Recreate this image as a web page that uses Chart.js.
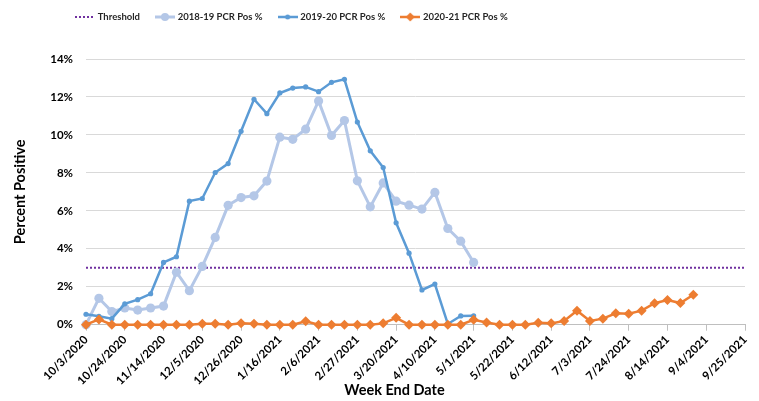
<!DOCTYPE html>
<html>
<head>
<meta charset="utf-8">
<script src="https://cdn.jsdelivr.net/npm/chart.js@4.4.1/dist/chart.umd.min.js"></script>
<style>
html,body{margin:0;padding:0;background:#fff;}
#wrap{width:759px;height:401px;position:relative;}
</style>
</head>
<body>
<div id="wrap"><canvas id="c" width="759" height="401"></canvas></div>
<script>
// ---------------- DATA ----------------
const weekEndDates = [
  '10/3/2020','10/10/2020','10/17/2020','10/24/2020','10/31/2020','11/7/2020','11/14/2020','11/21/2020','11/28/2020',
  '12/5/2020','12/12/2020','12/19/2020','12/26/2020','1/2/2021','1/9/2021','1/16/2021','1/23/2021','1/30/2021',
  '2/6/2021','2/13/2021','2/20/2021','2/27/2021','3/6/2021','3/13/2021','3/20/2021','3/27/2021','4/3/2021',
  '4/10/2021','4/17/2021','4/24/2021','5/1/2021','5/8/2021','5/15/2021','5/22/2021','5/29/2021','6/5/2021',
  '6/12/2021','6/19/2021','6/26/2021','7/3/2021','7/10/2021','7/17/2021','7/24/2021','7/31/2021','8/7/2021',
  '8/14/2021','8/21/2021','8/28/2021','9/4/2021','9/11/2021','9/18/2021','9/25/2021'
];
const xTickLabels = [
  '10/3/2020','10/24/2020','11/14/2020','12/5/2020','12/26/2020','1/16/2021','2/6/2021','2/27/2021','3/20/2021',
  '4/10/2021','5/1/2021','5/22/2021','6/12/2021','7/3/2021','7/24/2021','8/14/2021','9/4/2021','9/25/2021'
];
const yTickValues = [0, 2, 4, 6, 8, 10, 12, 14];

const threshold = [3,3,3,3,3,3,3,3,3,3,3,3,3,3,3,3,3,3,3,3,3,3,3,3,3,3,3,3,3,3,3,3,3,3,3,3,3,3,3,3,3,3,3,3,3,3,3,3,3,3,3,3];
const pcr1819 = [0.0, 1.39, 0.69, 0.88, 0.77, 0.88, 0.98, 2.77, 1.79, 3.07, 4.6, 6.29, 6.7, 6.79, 7.57, 9.88, 9.77, 10.3,
  11.79, 9.97, 10.76, 7.58, 6.21, 7.47, 6.51, 6.3, 6.09, 6.97, 5.07, 4.4, 3.28];
const pcr1920 = [0.55, 0.44, 0.32, 1.1, 1.32, 1.63, 3.28, 3.58, 6.51, 6.65, 8.02, 8.49, 10.19, 11.88, 11.12, 12.21, 12.47, 12.53,
  12.28, 12.77, 12.93, 10.68, 9.16, 8.28, 5.37, 3.77, 1.83, 2.14, 0.04, 0.46, 0.47];
const pcr2021 = [0, 0.28, 0, 0, 0, 0, 0, 0, 0, 0.05, 0.05, 0, 0.08, 0.05, 0, 0, 0, 0.18, 0, 0, 0, 0, 0, 0.07, 0.36, 0,
  0, 0, 0, 0, 0.26, 0.12, 0, 0, 0, 0.1, 0.07, 0.2, 0.74, 0.2, 0.32, 0.6, 0.58, 0.74, 1.13, 1.3, 1.14, 1.58];

const seriesNames = ['Threshold', '2018-19 PCR Pos %', '2019-20 PCR Pos %', '2020-21 PCR Pos %'];
const seriesColors = ['#7030a0', '#b4c7e7', '#5b9bd5', '#ed7d31'];

// ---------------- HELPERS ----------------
const legendFont = {family: 'Lato', size: 9.5, weight: 'bold'};

function sample(color, lw, dash, marker, r) {
  const c = document.createElement('canvas');
  c.width = 20; c.height = 12;
  const g = c.getContext('2d');
  g.strokeStyle = color; g.lineWidth = lw; g.setLineDash(dash);
  g.beginPath(); g.moveTo(0, 6); g.lineTo(20, 6); g.stroke();
  g.setLineDash([]); g.fillStyle = color;
  if (marker === 'circle') { g.beginPath(); g.arc(10, 6, r, 0, Math.PI * 2); g.fill(); }
  if (marker === 'diamond') {
    g.beginPath(); g.moveTo(10, 6 - r); g.lineTo(10 + r, 6); g.lineTo(10, 6 + r); g.lineTo(10 - r, 6); g.closePath(); g.fill();
  }
  return c;
}
const samples = [
  sample(seriesColors[0], 2, [2, 2], null, 0),
  sample(seriesColors[1], 3, [], 'circle', 4),
  sample(seriesColors[2], 2.5, [], 'circle', 2.5),
  sample(seriesColors[3], 2.5, [], 'diamond', 4.5)
];

const LEGEND_PAD = 17, LEGEND_LEFT = 77 - LEGEND_PAD, LEGEND_TEXT_Y = 17, X_TITLE_SHIFT = 21;

const placeBoxes = {
  id: 'placeBoxes',
  afterLayout(chart) {
    const lg = chart.legend;
    const fs = legendFont.size;
    const wantTop = LEGEND_TEXT_Y - LEGEND_PAD - fs / 2;
    const dx = LEGEND_LEFT - lg.left, dy = wantTop - lg.top;
    lg.left += dx; lg.right += dx; lg.top += dy; lg.bottom += dy;
    const xs = chart.scales.x;
    if (!xs._titleShifted) {
      const orig = xs.drawTitle;
      xs.drawTitle = function () {
        const l = this.left;
        this.left = l - 2 * X_TITLE_SHIFT;
        orig.call(this);
        this.left = l;
      };
      xs._titleShifted = true;
    }
  }
};

const tickColor = ctx => (xTickLabels.indexOf(weekEndDates[ctx.index]) >= 0 ? '#bfbfbf' : 'rgba(0,0,0,0)');

new Chart(document.getElementById('c'), {
  type: 'line',
  data: {
    labels: weekEndDates,
    datasets: [
      { label: seriesNames[0], data: threshold, borderColor: seriesColors[0], borderWidth: 2, borderDash: [2, 2],
        pointRadius: 0, order: 3, clip: false },
      { label: seriesNames[1], data: pcr1819, borderColor: seriesColors[1], backgroundColor: seriesColors[1], borderWidth: 3,
        pointRadius: 4.6, pointStyle: 'circle', pointBorderWidth: 0, order: 2, clip: false },
      { label: seriesNames[2], data: pcr1920, borderColor: seriesColors[2], backgroundColor: seriesColors[2], borderWidth: 2.5,
        pointRadius: 2.6, pointStyle: 'circle', pointBorderWidth: 0, order: 1, clip: false },
      { label: seriesNames[3], data: pcr2021, borderColor: seriesColors[3], backgroundColor: seriesColors[3], borderWidth: 2.5,
        pointRadius: 5, pointStyle: 'rectRot', pointBorderWidth: 0, order: 0, clip: false }
    ]
  },
  options: {
    responsive: false,
    animation: false,
    events: [],
    layout: { padding: { left: 0, right: 14, top: 0, bottom: 0 } },
    elements: { line: { tension: 0 } },
    plugins: {
      tooltip: { enabled: false },
      title: { display: true, text: '', weight: 500, font: { size: 1 }, padding: { top: 0, bottom: 21.3 } },
      legend: {
        position: 'top', align: 'start',
        labels: {
          font: legendFont, color: '#262626', padding: LEGEND_PAD,
          usePointStyle: true, pointStyleWidth: 16,
          generateLabels: chart => chart.data.datasets.map((d, i) => ({
            text: d.label, pointStyle: samples[i], fillStyle: seriesColors[i], strokeStyle: seriesColors[i],
            lineWidth: 0, hidden: false, datasetIndex: i, fontColor: '#262626'
          }))
        }
      }
    },
    scales: {
      x: {
        type: 'category',
        afterFit: s => { s.height = 76.3; },
        grid: { display: true, drawOnChartArea: false, drawTicks: true, tickLength: 6, tickColor: tickColor, color: tickColor },
        border: { display: true, color: '#bfbfbf', width: 1 },
        ticks: {
          autoSkip: false, minRotation: 45, maxRotation: 45, padding: 2, color: '#000',
          font: { family: 'Lato', size: 11.5, weight: 'bold' },
          callback: function (v, i) { const d = weekEndDates[i]; return xTickLabels.indexOf(d) >= 0 ? d : ''; }
        },
        title: { display: true, text: 'Week End Date', color: '#000', font: { family: 'Lato', size: 14.5, weight: 'bold' },
                 padding: { top: 0, bottom: 2 } }
      },
      y: {
        min: 0, max: 14,
        afterFit: s => { s.width = 86; },
        afterBuildTicks: s => { s.ticks = yTickValues.map(v => ({ value: v })); },
        grid: { color: '#d9d9d9', lineWidth: 1, drawTicks: false },
        border: { display: false },
        ticks: { padding: 13, color: '#000', font: { family: 'Lato', size: 11.5, weight: 'bold' }, callback: v => v + '%' },
        title: { display: true, text: 'Percent Positive', color: '#000', font: { family: 'Lato', size: 14.5, weight: 'bold' },
                 padding: { top: 12, bottom: 0 } }
      }
    }
  },
  plugins: [placeBoxes]
});
</script>
</body>
</html>
